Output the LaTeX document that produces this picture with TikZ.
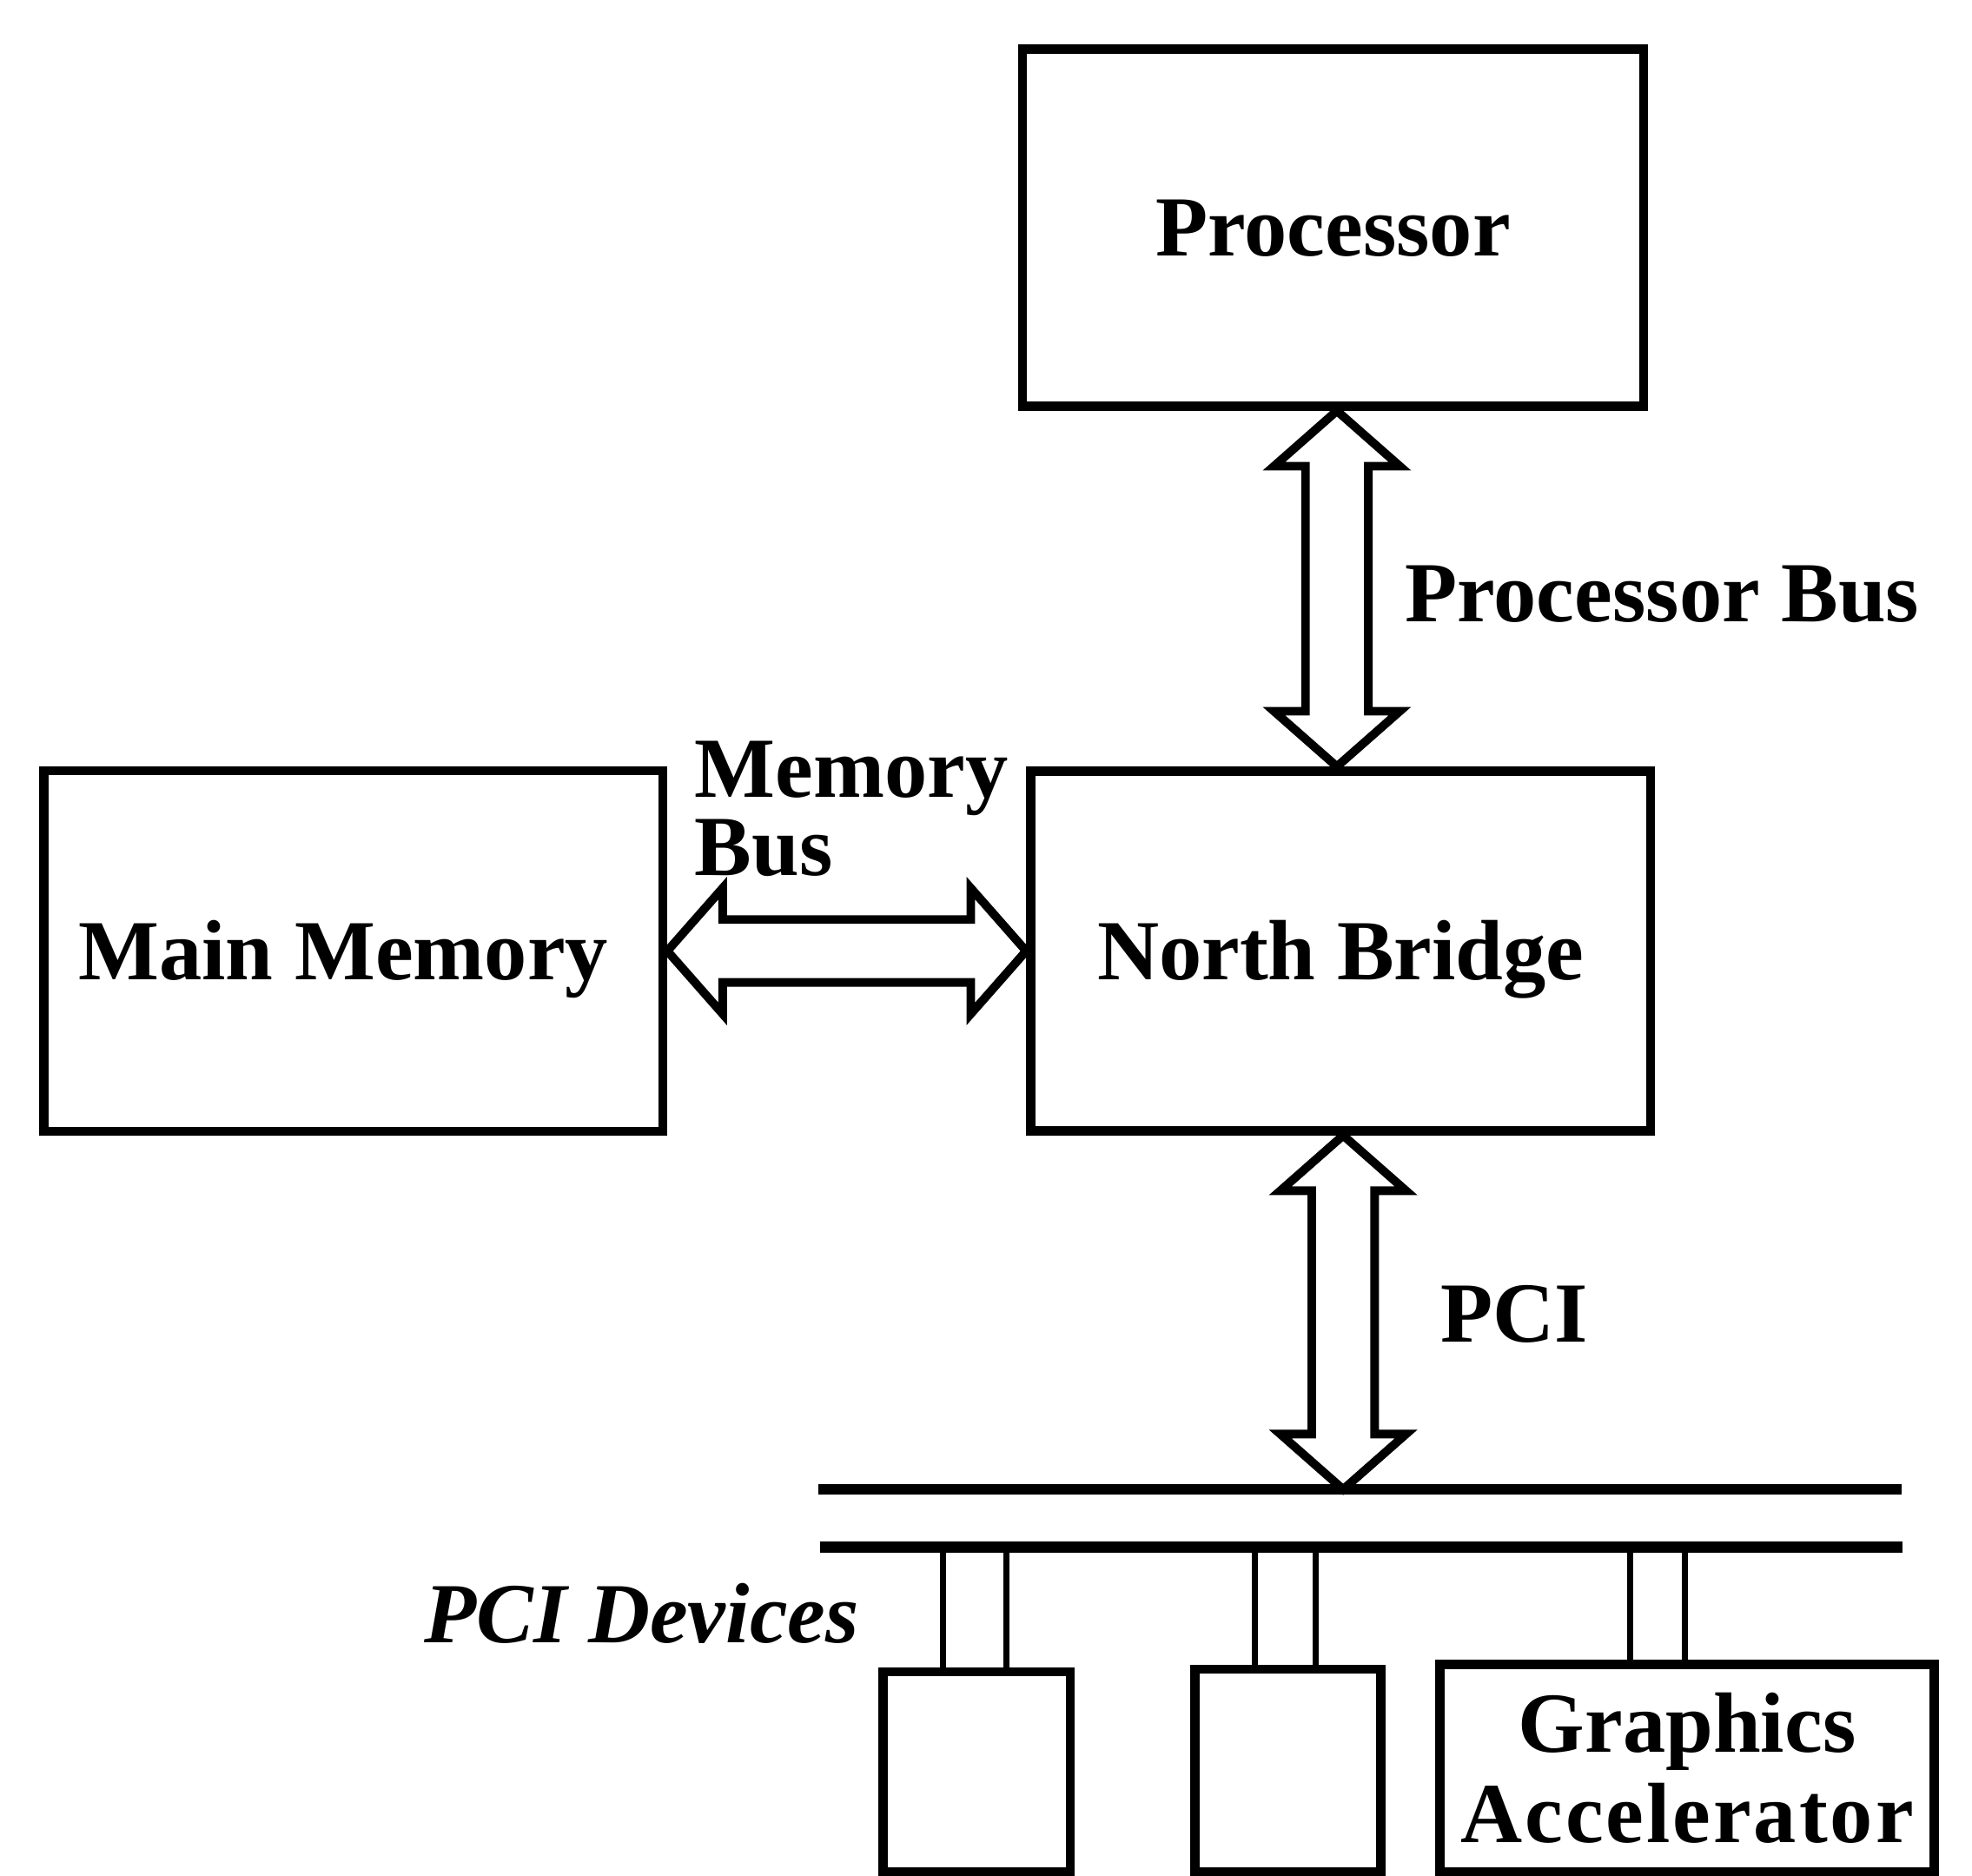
\documentclass[tikz,border=0pt]{standalone}
\usepackage{fontspec}
\setmainfont{Liberation Serif}
\usetikzlibrary{calc}
\newcommand\boxfont{\fontsize{34}{36}\selectfont\bfseries}
\newcommand\busV[2]{%
  \draw[busarrow] (#1) -- ++(50,44) -- ++(-25,0) -- ($(#2)+(25,-44)$) -- ++(25,0)
    -- (#2) -- ++(-50,-44) -- ++(25,0) -- ($(#1)+(-25,44)$) -- ++(-25,0) -- cycle;}
\newcommand\busH[2]{%
  \draw[busarrow] (#1) -- ++(44,-50) -- ++(0,25) -- ($(#2)+(-44,-25)$) -- ++(0,-25)
    -- (#2) -- ++(-44,50) -- ++(0,-25) -- ($(#1)+(44,25)$) -- ++(0,25) -- cycle;}
\tikzset{
  unitbox/.style={draw, line width=3.6pt, inner sep=0pt, font=\boxfont,
    text height=22.5pt, text depth=-2pt},
  devbox/.style={draw, line width=3.6pt, inner sep=0pt},
  busarrow/.style={draw, line width=3.4pt, line join=miter, fill=white},
  busline/.style={line width=4.4pt},
  stubline/.style={line width=2.4pt},
  lbl/.style={font=\boxfont, inner sep=0pt},
}
\begin{document}
\begin{tikzpicture}[x=0.5pt, y=-0.5pt]
\useasboundingbox (0,0) rectangle (1568,1491);
% main boxes
\node[unitbox, minimum width=247pt, minimum height=142pt] (proc) at (1060,181) {Processor};
\node[unitbox, minimum width=246.5pt, minimum height=143pt] (nb) at (1066,756) {North Bridge};
\node[unitbox, minimum width=246pt, minimum height=143.5pt] (mm) at (281,756) {Main Memory\hspace*{8pt}};
% PCI device boxes
\node[devbox, minimum width=74.5pt, minimum height=79.5pt] (d1) at (776.5,1408.5) {};
\node[devbox, minimum width=74pt, minimum height=80.5pt] (d2) at (1024,1407.5) {};
\node[devbox, minimum width=196.5pt, minimum height=82.5pt, font=\boxfont, align=center] (gfx) at (1341.5,1405.5) {Graphics\\{\addfontfeature{LetterSpace=3}Accelerator}};
% bus lines
\coordinate (busAl) at (651,1184); \coordinate (busAr) at (1512,1184);
\coordinate (busBl) at (652,1230); \coordinate (busBr) at (1513,1230);
% double arrows
\coordinate (pbT) at ($(proc.south)+(3,0)$);
\coordinate (pbB) at (pbT |- nb.north);
\busV{pbT}{pbB}
\coordinate (pciT) at ($(nb.south)+(2,0)$);
\coordinate (pciB) at (pciT |- busAl);
\busV{pciT}{pciB}
\busH{mm.east}{nb.west}
\draw[busline] (busAl) -- (busAr);
\draw[busline] (busBl) -- (busBr);
% stubs
\foreach \sx/\dv in {750/d1,800/d1,998/d2,1046/d2,1296/gfx,1340/gfx}{
  \coordinate (stub) at (\sx,1230);
  \draw[stubline] (stub) -- (stub |- \dv.north);
}
% labels
\node[lbl, anchor=base west] (pbl) at (1117,494) {Processor Bus};
\node[lbl, anchor=base west] (pcil) at (1145,1067) {PCI};
\node[lbl, anchor=north west, align=left, font=\fontsize{34}{31}\selectfont\bfseries] (mbl) at (552,589) {Memory\\Bus};
\node[lbl, anchor=base west, font=\fontsize{34}{36}\selectfont\bfseries\itshape] (pcid) at (337,1306) {PCI Devices};
\end{tikzpicture}
\end{document}
